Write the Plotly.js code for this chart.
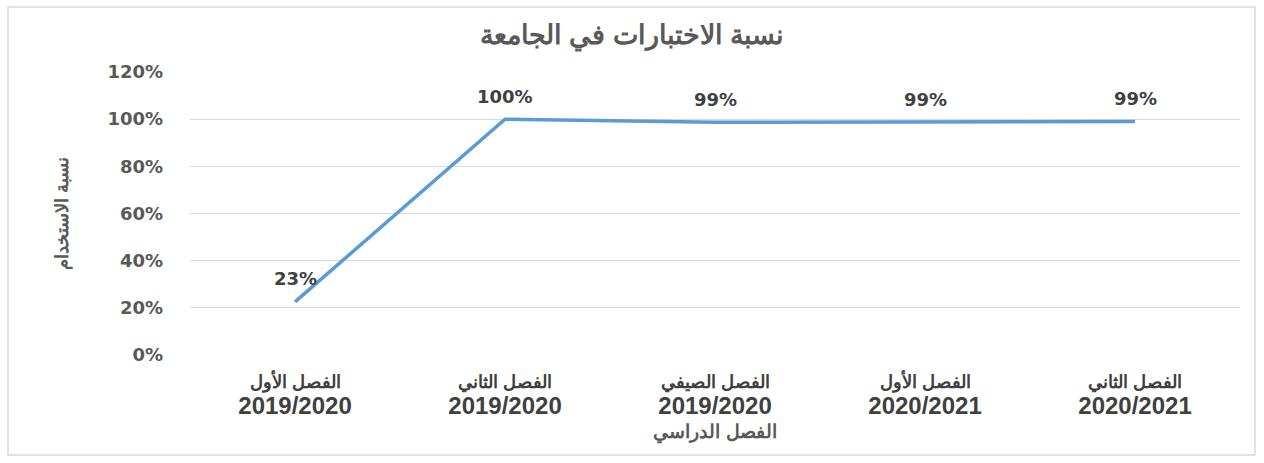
<!DOCTYPE html>
<html>
<head>
<meta charset="utf-8">
<script src="https://cdn.plot.ly/plotly-3.0.1.min.js"></script>
<style>
html,body{margin:0;padding:0;background:#fff;}
#chart{width:1264px;height:463px;}
</style>
</head>
<body>
<div id="chart"></div>
<script>
const semesters = ["الفصل الأول", "الفصل الثاني", "الفصل الصيفي", "الفصل الأول", "الفصل الثاني"];
const years = ["2019/2020", "2019/2020", "2019/2020", "2020/2021", "2020/2021"];
const usageRate = [0.225, 1.0, 0.987, 0.988, 0.99];
const valueLabels = ["23%", "100%", "99%", "99%", "99%"];
const yTickVals = [0, 0.2, 0.4, 0.6, 0.8, 1.0, 1.2];
const yTickText = ["0%", "20%", "40%", "60%", "80%", "100%", "120%"];

const xIdx = semesters.map((_, i) => i);
const xTickText = semesters.map((s, i) =>
  '<span style="font-size:18px">' + s + '</span><br><b><span style="font-size:24px">' + years[i] + '</span></b>');

const trace = {
  x: xIdx,
  y: usageRate,
  type: 'scatter',
  mode: 'lines',
  line: {color: '#5B9BD5', width: 3.5},
  hoverinfo: 'skip'
};

const annotations = xIdx.map(i => ({
  x: i, y: usageRate[i], xref: 'x', yref: 'y',
  text: valueLabels[i], showarrow: false,
  yshift: 23, yanchor: 'middle',
  font: {family: 'DejaVu Sans', size: 18, color: '#404040', weight: 'bold'}
}));

const layout = {
  width: 1264, height: 463,
  margin: {l: 190, r: 24, t: 72, b: 108},
  paper_bgcolor: '#fff', plot_bgcolor: '#fff',
  showlegend: false,
  title: {
    text: 'نسبة الاختبارات في الجامعة',
    font: {family: 'Liberation Sans', size: 27, color: '#595959', weight: 'bold'},
    x: 0.5, xref: 'container', xanchor: 'center',
    y: 0.925, yref: 'container', yanchor: 'middle'
  },
  xaxis: {
    range: [-0.5, 4.5],
    tickvals: xIdx,
    ticktext: xTickText,
    tickfont: {family: 'Liberation Sans', size: 20, color: '#404040', weight: 'bold'},
    showgrid: false, zeroline: false, showline: false, ticks: '',
    ticklabelstandoff: 12,
    title: {text: 'الفصل الدراسي', font: {family: 'Liberation Sans', size: 19, color: '#595959', weight: 'bold'}, standoff: 6}
  },
  yaxis: {
    range: [0, 1.2],
    tickvals: yTickVals,
    ticktext: yTickText,
    tickfont: {family: 'DejaVu Sans', size: 18, color: '#595959', weight: 'bold'},
    showgrid: true, gridcolor: '#d9d9d9', gridwidth: 1.2,
    zeroline: false, showline: false, ticks: '', ticklen: 0,
    ticklabelstandoff: 26,
    title: {text: 'نسبة الاستخدام', font: {family: 'Liberation Sans', size: 18, color: '#595959', weight: 'bold'}, standoff: 34}
  },
  annotations: annotations,
  shapes: [{
    type: 'rect', xref: 'paper', yref: 'paper',
    x0: -182/1050, x1: 1255/1050 - 190/1050, y0: -100/283, y1: 1 + 65/283,
    line: {color: '#d9d9d9', width: 1.5}, fillcolor: 'rgba(0,0,0,0)', layer: 'below'
  }]
};

Plotly.newPlot('chart', [trace], layout, {displayModeBar: false, staticPlot: true});
</script>
</body>
</html>
